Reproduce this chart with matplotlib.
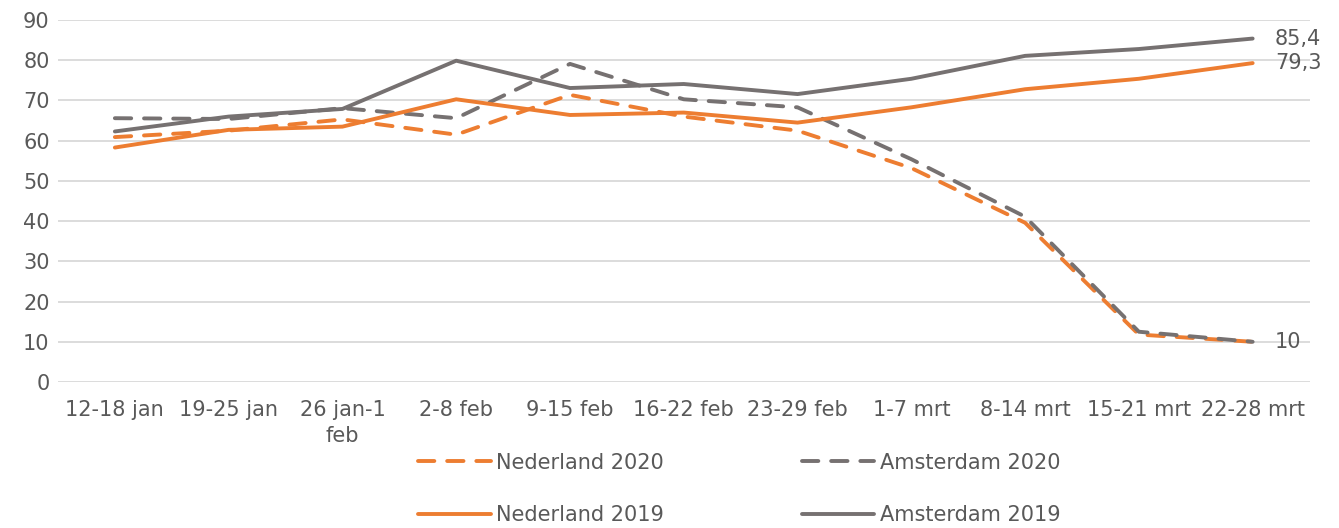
import matplotlib
matplotlib.use("Agg")
import matplotlib.pyplot as plt

categories = ["12-18 jan", "19-25 jan", "26 jan-1\nfeb", "2-8 feb", "9-15 feb", "16-22 feb",
              "23-29 feb", "1-7 mrt", "8-14 mrt", "15-21 mrt", "22-28 mrt"]
nederland_2020 = [60.9, 62.5, 65.3, 61.5, 71.4, 66.0, 62.5, 53.2, 39.6, 11.8, 10.0]
amsterdam_2020 = [65.6, 65.4, 68.1, 65.6, 79.1, 70.3, 68.3, 55.4, 41.1, 12.5, 10.0]
nederland_2019 = [58.3, 62.7, 63.5, 70.3, 66.4, 67.0, 64.5, 68.3, 72.8, 75.4, 79.3]
amsterdam_2019 = [62.3, 66.0, 67.9, 79.9, 73.1, 74.1, 71.6, 75.4, 81.1, 82.8, 85.4]
end_labels = ["85,4", "79,3", "10"]

ORANGE = "#ED7D31"
GREY = "#767171"
TEXT = "#595959"
FS = 15

fig = plt.figure(figsize=(13.39, 5.28), dpi=100)
ax = fig.add_axes([0.0433, 0.2765, 0.9347, 0.6855])
x = list(range(len(categories)))
lw = 2.8

l1, = ax.plot(x, nederland_2020, color=ORANGE, lw=lw, dashes=(4.2, 3.3),
              dash_capstyle="round", solid_joinstyle="round", label="Nederland 2020", zorder=3)
l2, = ax.plot(x, amsterdam_2020, color=GREY, lw=lw, dashes=(4.2, 3.3),
              dash_capstyle="round", solid_joinstyle="round", label="Amsterdam 2020", zorder=4)
l3, = ax.plot(x, nederland_2019, color=ORANGE, lw=lw, solid_capstyle="round",
              solid_joinstyle="round", label="Nederland 2019", zorder=5)
l4, = ax.plot(x, amsterdam_2019, color=GREY, lw=lw, solid_capstyle="round",
              solid_joinstyle="round", label="Amsterdam 2019", zorder=6)

ax.set_xlim(-0.5, len(categories) - 0.5)
ax.set_ylim(0, 90)
ax.set_yticks(range(0, 91, 10))
ax.set_xticks(x)
ax.set_xticklabels(categories, fontsize=FS, color=TEXT, linespacing=1.4)
ax.tick_params(axis="y", labelsize=FS, labelcolor=TEXT, length=0, pad=6)
ax.tick_params(axis="x", length=0, pad=13)
for s in ax.spines.values():
    s.set_visible(False)
ax.grid(axis="y", color="#D9D9D9", lw=1.3)
ax.set_axisbelow(True)

last = len(categories) - 1
for val, txt in zip([amsterdam_2019[-1], nederland_2019[-1], nederland_2020[-1]], end_labels):
    ax.annotate(txt, (last, val), xytext=(16, 0), textcoords="offset points",
                va="center", ha="left", fontsize=FS, color=TEXT, annotation_clip=False)

leg = fig.legend(handles=[l1, l3, l2, l4], ncol=2, loc="center",
                 bbox_to_anchor=(0.552, 0.074), frameon=False, fontsize=FS,
                 handlelength=3.5, handletextpad=0.25, columnspacing=6.6,
                 labelspacing=1.55, labelcolor=TEXT)

fig.savefig("out.png", dpi=100)
